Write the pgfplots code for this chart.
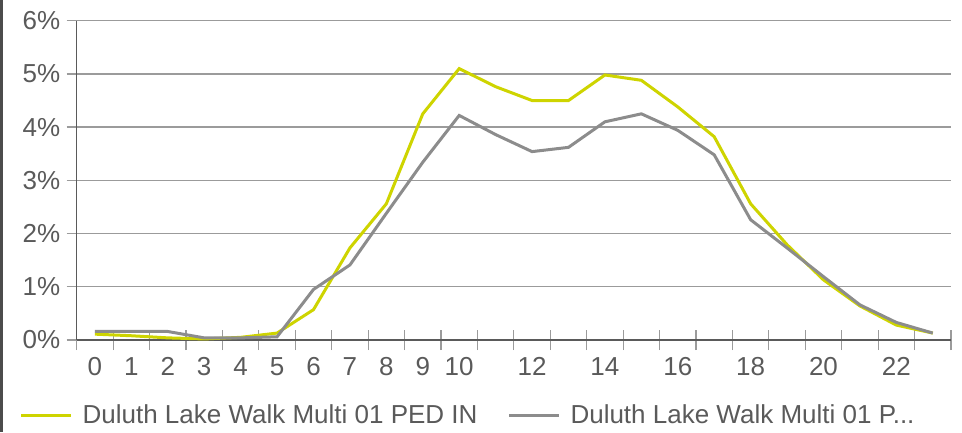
\documentclass[border=0pt]{standalone}
\usepackage{fontspec}
\setmainfont{Liberation Sans}
\usepackage{pgfplots}
\usepackage{pgfplotstable}
\pgfplotsset{compat=1.18}

\definecolor{limeline}{RGB}{206,212,0}
\definecolor{greyline}{RGB}{140,140,140}
\definecolor{gridc}{RGB}{155,155,155}
\definecolor{txt}{RGB}{90,90,90}

% hour, share PED IN (%), share second counter (%)
\pgfplotstableread{
h    pin   pout
0    0.11  0.16
1    0.08  0.16
2    0.04  0.16
3    0.02  0.04
4    0.05  0.04
5    0.13  0.06
6    0.57  0.95
7    1.73  1.41
8    2.56  2.38
9    4.25  3.34
10   5.10  4.22
11   4.76  3.86
12   4.50  3.54
13   4.50  3.62
14   4.98  4.10
15   4.88  4.25
16   4.38  3.94
17   3.82  3.48
18   2.56  2.26
19   1.79  1.73
20   1.13  1.19
21   0.64  0.66
22   0.28  0.33
23   0.13  0.13
}\hourly

\begin{document}
\begin{tikzpicture}
\useasboundingbox (0,0) rectangle (962pt,432pt);
\fill[black!70] (0,0) rectangle (3pt,432pt);
\begin{axis}[
    at={(76.7pt,92pt)}, anchor=south west,
    scale only axis, width=874.3pt, height=319.3pt,
    xmin=-0.5, xmax=23.5, ymin=0, ymax=6,
    axis lines*=left,
    axis line style={txt, line width=1.4pt},
    font=\fontsize{26}{30}\selectfont,
    tick label style={text=txt},
    /pgf/number format/assume math mode=true,
    ytick={0,...,6},
    yticklabel={\pgfmathprintnumber{\tick}\%},
    yticklabel style={xshift=-3pt},
    ymajorgrids, grid style={gridc, line width=1.3pt},
    tick align=outside, major tick length=10pt,
    major y tick style={gridc, line width=1.3pt},
    xtick={0,1,2,3,4,5,6,7,8,9,10,12,14,16,18,20,22},
    major x tick style={draw=none},
    minor xtick={-0.5,0.5,...,23.5},
    minor tick length=20pt,
    minor x tick style={gridc, line width=1.1pt, yshift=10pt},
    xticklabel style={yshift=-4pt},
    legend style={at={(-0.069,-0.235)}, anchor=west, draw=none, fill=none,
        text=txt, legend columns=2,
        /tikz/every odd column/.append style={column sep=8pt},
        /tikz/every even column/.append style={column sep=28pt}},
    legend image code/.code={\draw[#1] (0pt,0pt) -- (50pt,0pt);},
]
\addplot[limeline, line width=3pt] table[x=h, y=pin] {\hourly};
\addlegendentry{Duluth Lake Walk Multi 01 PED IN}
\addplot[greyline, line width=3pt] table[x=h, y=pout] {\hourly};
\addlegendentry{Duluth Lake Walk Multi 01 P...}
\end{axis}
\end{tikzpicture}
\end{document}
